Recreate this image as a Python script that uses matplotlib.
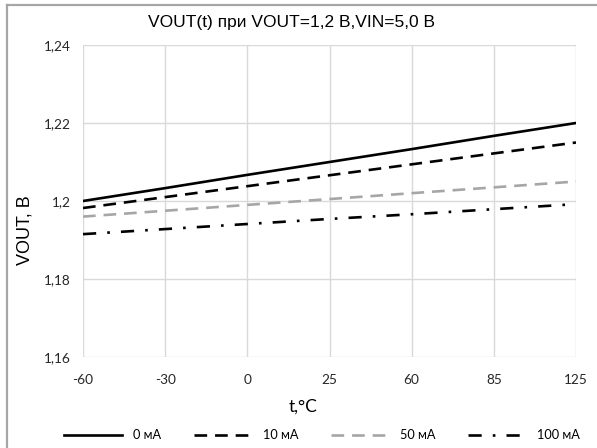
import numpy as np
import matplotlib.pyplot as plt
from matplotlib.lines import Line2D

temps = ["-60", "-30", "0", "25", "60", "85", "125"]
vout_0 = [1.2000, 1.2033, 1.2067, 1.2100, 1.2133, 1.2167, 1.2200]
vout_10 = [1.1982, 1.2010, 1.2038, 1.2066, 1.2094, 1.2122, 1.2150]
vout_50 = [1.1960, 1.1975, 1.1990, 1.2005, 1.2020, 1.2035, 1.2050]
vout_100 = [1.1915, 1.1928, 1.1941, 1.1954, 1.1966, 1.1979, 1.1992]
labels = ["0 мА", "10 мА", "50 мА", "100 мА"]

W, H = 597, 448
fig = plt.figure(figsize=(W / 100, H / 100), dpi=100)

# chart-area border (only left and top edges visible in the crop)
fig.add_artist(Line2D([6.5 / W, 6.5 / W], [0, 1 - 5.5 / H], transform=fig.transFigure,
                      color="#a6a6a6", lw=1.6))
fig.add_artist(Line2D([6.5 / W, 1], [1 - 5.5 / H, 1 - 5.5 / H], transform=fig.transFigure,
                      color="#a6a6a6", lw=1.6))

ax = fig.add_axes([83 / W, 1 - 357 / H, (576 - 83) / W, (357 - 45) / H])

x = np.arange(len(temps))
lw = 1.9
ax.plot(x, vout_0, color="black", lw=lw, ls="-", label=labels[0])
ax.plot(x, vout_10, color="black", lw=lw, ls=(0, (4.8, 3)), label=labels[1])
ax.plot(x, vout_50, color="#a6a6a6", lw=lw, ls=(0, (4.8, 3)), label=labels[2])
ax.plot(x, vout_100, color="black", lw=lw, ls=(0, (5, 4.2, 1, 4.2)), label=labels[3])

ax.set_xlim(0, 6)
ax.set_ylim(1.16, 1.24)
ax.set_xticks(x)
ax.set_xticklabels(temps)
ax.set_yticks([1.16, 1.18, 1.20, 1.22, 1.24])
ax.set_yticklabels(["1,16", "1,18", "1,2", "1,22", "1,24"])
ax.grid(True, color="#d9d9d9", lw=1)
for s in ax.spines.values():
    s.set_visible(False)
ax.tick_params(length=0, labelsize=9.8, colors="#262626")
ax.tick_params(axis="x", pad=12)
ax.tick_params(axis="y", pad=9)
for t in ax.get_xticklabels() + ax.get_yticklabels():
    t.set_family("Lato")

fig.text(291 / W, 1 - 22 / H, "VOUT(t) при VOUT=1,2 В,VIN=5,0 В", fontsize=12.5,
         family="Liberation Sans", ha="center", va="center")
fig.text(25 / W, 1 - 230 / H, "VOUT, В", fontsize=13, family="Liberation Sans",
         rotation=90, ha="center", va="center")
fig.text(303 / W, 1 - 407 / H, "t,°C", fontsize=12.5, family="Lato",
         ha="center", va="center")

fig.legend(loc="center", bbox_to_anchor=(322 / W, 1 - 435 / H), ncol=4, frameon=False,
           handlelength=4.5, columnspacing=2.55, handletextpad=0.9,
           prop={"family": "Lato", "size": 9.2})

fig.savefig("out.png", dpi=100)
